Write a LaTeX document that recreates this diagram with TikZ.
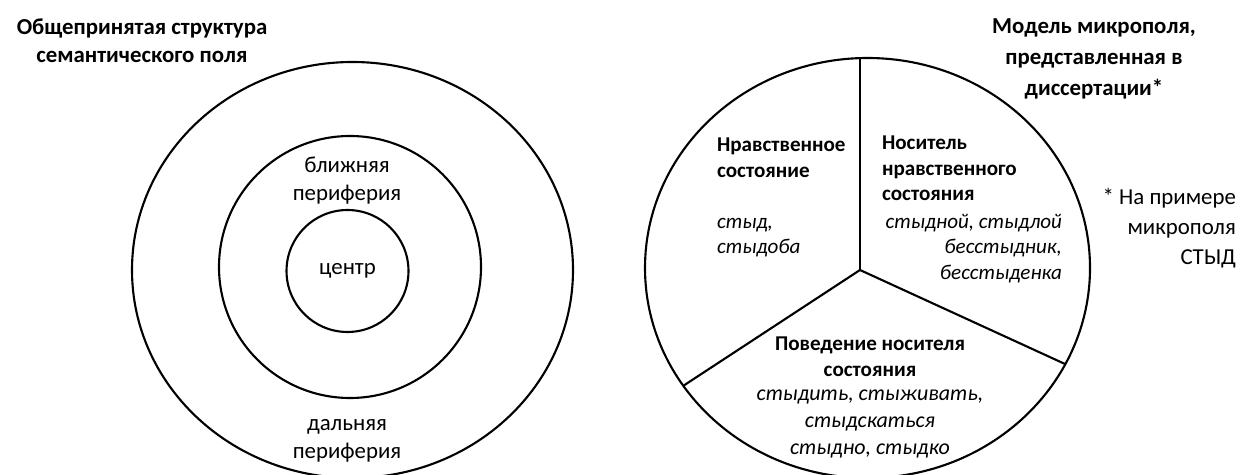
\documentclass[tikz,border=0pt]{standalone}
\usepackage{fontspec}
\setmainfont{Carlito}
\usetikzlibrary{positioning}

\begin{document}
\begin{tikzpicture}
	[x=0.02cm, y=-0.02cm, line width=1.2pt,
	every node/.style={inner sep=0pt},
	heading/.style={font=\fontsize{13}{16}\selectfont\bfseries, align=center},
	zone/.style={font=\fontsize{13}{16}\selectfont, align=center},
	part/.style={font=\fontsize{12}{14.45}\selectfont\bfseries},
	words/.style={font=\fontsize{12}{14.45}\selectfont\itshape}]
	\useasboundingbox (0,0) rectangle (1240,475);

	% common structure
	\node[heading, anchor=north] (ltitle) at (142,18) {Общепринятая структура\\семантического поля};
	\draw (352.5,270) ellipse [x radius=220.5, y radius=208];
	\draw (350,267) circle [radius=131];
	\node[zone, draw, circle, minimum size=2.44cm] (centr) at (347.5,271) {центр};
	\node[zone, anchor=north] (near) at (347,156) {ближняя\\периферия};
	\node[zone, anchor=north] (far) at (347,418) {дальняя\\периферия};

	% micro field
	\node[heading, anchor=north, font=\fontsize{13}{17.5}\selectfont\bfseries] (rtitle) at (1094,18)
		{Модель микрополя,\\представленная в\\диссертации*};
	\node[zone, anchor=north east, align=right, font=\fontsize{13}{17}\selectfont] (note) at (1237,187)
		{* На примере\\микрополя\\СТЫД};
	\draw (867.5,268) ellipse [x radius=222.5, y radius=210];
	\coordinate (hub) at (860,270);
	\coordinate (up) at (860,58);
	\coordinate (left) at (683,386);
	\coordinate (right) at (1065,364);
	\draw (hub) -- (up);
	\draw (hub) -- (left);
	\draw (hub) -- (right);

	\node[part, anchor=north west, align=left] (state) at (716,137) {Нравственное\\состояние};
	\node[words, anchor=north west, align=left] (statew) at (716,217) {стыд,\\стыдоба};
	\node[part, anchor=north west, align=left] (bearer) at (881,135) {Носитель\\нравственного\\состояния};
	\node[words, anchor=north east, align=right] (bearerw) at (1063,213)
		{стыдной, стыдлой\\бесстыдник,\\бесстыденка};
	\node[part, anchor=north, align=center] (conduct) at (870,336) {Поведение носителя\\состояния};
	\node[words, anchor=north, align=center, font=\fontsize{12.5}{15.2}\selectfont\itshape] (conductw) at (870,389)
		{стыдить, стыживать,\\стыдскаться\\стыдно, стыдко};
\end{tikzpicture}
\end{document}
